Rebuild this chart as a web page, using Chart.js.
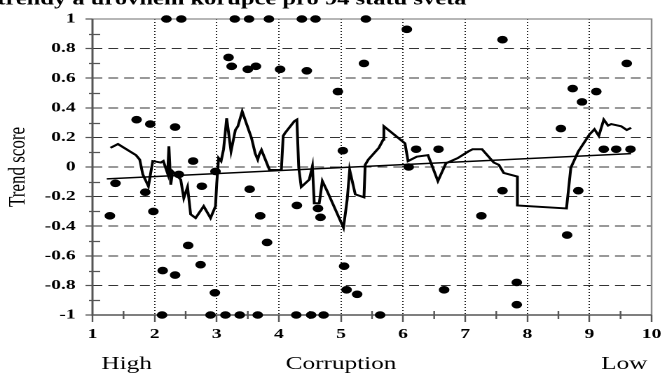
<!DOCTYPE html>
<html>
<head>
<meta charset="utf-8">
<script src="https://cdn.jsdelivr.net/npm/chart.js@4/dist/chart.umd.min.js"></script>
<style>
  html, body { margin: 0; padding: 0; background: #fff; overflow: hidden; }
  /* the source figure is stretched sideways, so the whole canvas is too */
  #wrap { position: absolute; left: 0; top: 0; width: 476px; height: 373px;
          transform: scaleX(1.40126); transform-origin: 0 0; }
</style>
</head>
<body>
<div id="wrap"><canvas id="chart"></canvas></div>
<script>
// countries: corruption level vs trend score
const countryX = [2.19, 2.43, 3.29, 3.52, 3.84, 4.37, 4.59, 5.40,
  3.19, 3.24, 3.50, 3.63, 4.02, 4.45, 5.37, 4.95, 6.06, 7.60, 9.60, 8.73, 9.11, 8.88, 8.54,
  1.71, 1.93, 2.33, 2.62, 5.03, 6.21, 6.57, 9.23, 9.43, 9.66, 6.09,
  1.37, 1.28, 1.85, 1.98, 2.39, 2.76, 2.54, 2.74, 2.13, 2.33, 2.97, 2.98, 3.53, 3.70, 3.81,
  4.29, 4.63, 4.67, 5.05, 5.09, 5.26, 6.66, 7.60, 7.26, 8.82, 8.64, 7.83, 7.83,
  2.12, 2.90, 3.14, 3.37, 3.66, 4.28, 4.52, 4.72, 5.63];
const countryY = [1, 1, 1, 1, 1, 1, 1, 1,
  0.74, 0.68, 0.66, 0.68, 0.66, 0.65, 0.70, 0.51, 0.93, 0.86, 0.70, 0.53, 0.51, 0.44, 0.26,
  0.32, 0.29, 0.27, 0.04, 0.11, 0.12, 0.12, 0.12, 0.12, 0.12, 0.0,
  -0.11, -0.33, -0.17, -0.30, -0.05, -0.13, -0.53, -0.66, -0.70, -0.73, -0.85, -0.03, -0.15, -0.33, -0.51,
  -0.26, -0.28, -0.34, -0.67, -0.83, -0.86, -0.83, -0.16, -0.33, -0.16, -0.46, -0.78, -0.93,
  -1, -1, -1, -1, -1, -1, -1, -1, -1];

// moving trend score
const trendX = [1.29, 1.41, 1.70, 1.76, 1.81, 1.90, 1.97, 2.10, 2.14, 2.21, 2.23, 2.26, 2.29, 2.42, 2.47, 2.53,
  2.58, 2.66, 2.79, 2.90, 2.98, 3.00, 3.03, 3.07, 3.11, 3.16, 3.23, 3.30, 3.34, 3.41, 3.56, 3.62, 3.66,
  3.68, 3.72, 3.85, 4.04, 4.07, 4.10, 4.25, 4.29, 4.32, 4.36, 4.49, 4.54, 4.57, 4.65, 4.70, 4.78, 5.04,
  5.10, 5.14, 5.23, 5.37, 5.39, 5.44, 5.61, 5.68, 5.69, 6.03, 6.08, 6.22, 6.40, 6.56, 6.69, 6.88, 7.05,
  7.12, 7.27, 7.46, 7.54, 7.62, 7.84, 7.84, 8.63, 8.70, 8.82, 9.00, 9.08, 9.15, 9.23, 9.30, 9.35, 9.51,
  9.60, 9.67];
const trendY = [0.13, 0.155, 0.08, 0.05, -0.05, -0.13, 0.04, 0.03, 0.04, -0.045, 0.14, -0.12, -0.03, -0.085, -0.21, -0.135,
  -0.32, -0.345, -0.265, -0.345, -0.265, -0.11, 0.06, 0.04, 0.12, 0.33, 0.105, 0.25, 0.275, 0.375, 0.195, 0.09, 0.05,
  0.08, 0.115, -0.02, -0.02, 0.21, 0.23, 0.31, 0.32, -0.005, -0.135, -0.085, 0.005, -0.245, -0.245, -0.095, -0.165, -0.41,
  -0.22, -0.02, -0.185, -0.205, 0.015, 0.05, 0.13, 0.185, 0.275, 0.16, 0.04, 0.07, 0.08, -0.095, 0.025, 0.06, 0.105,
  0.12, 0.12, 0.03, 0.015, -0.04, -0.065, -0.26, -0.28, -0.005, 0.105, 0.22, 0.255, 0.21, 0.32, 0.28, 0.29, 0.275,
  0.25, 0.265];

// linear fit
const fitX = [1.23, 9.67];
const fitY = [-0.08, 0.09];

const xTicks = [1, 2, 3, 4, 5, 6, 7, 8, 9, 10];
const yTicks = [-1, -0.8, -0.6, -0.4, -0.2, 0, 0.2, 0.4, 0.6, 0.8, 1];

const titleText = 'trendy a úrovnem korupce pro 94 států světa';
const bottomWords = [['High', 1.55], ['Corruption', 5.0], ['Low', 9.56]];

const toPoints = (xs, ys) => xs.map((v, i) => ({ x: v, y: ys[i] }));
const serif = '"Liberation Serif", "Times New Roman", serif';

// frame, minor ticks and extra text
const decor = {
  id: 'decor',
  beforeDatasetsDraw(chart) {
    const { ctx, chartArea: a, scales: { x, y } } = chart;
    ctx.save();
    ctx.strokeStyle = '#8a8a8a';
    ctx.lineWidth = 1.2;
    ctx.beginPath();
    ctx.moveTo(a.left, a.top);
    ctx.lineTo(a.right, a.top);
    ctx.lineTo(a.right, a.bottom);
    ctx.stroke();
    ctx.strokeStyle = '#555';
    ctx.lineWidth = 1.5;
    ctx.beginPath();
    ctx.moveTo(a.left, a.top);
    ctx.lineTo(a.left, a.bottom);
    ctx.lineTo(a.right, a.bottom);
    ctx.stroke();
    ctx.lineWidth = 1.2;
    ctx.beginPath();
    for (let v = -0.9; v < 1; v += 0.2) {
      const py = Math.round(y.getPixelForValue(v)) + 0.5;
      ctx.moveTo(a.left - 2.5, py);
      ctx.lineTo(a.left + 5.5, py);
    }
    for (let v = 1.5; v < 10; v += 1) {
      const px = x.getPixelForValue(v);
      ctx.moveTo(px, a.bottom - 4);
      ctx.lineTo(px, a.bottom + 4);
    }
    ctx.stroke();
    ctx.restore();
  },
  afterDraw(chart) {
    const { ctx, scales: { x } } = chart;
    ctx.save();
    ctx.fillStyle = '#000';
    ctx.font = 'bold 17.5px ' + serif;
    ctx.textAlign = 'left';
    ctx.textBaseline = 'alphabetic';
    ctx.fillText(titleText, -2, 4.5);
    ctx.font = '18px ' + serif;
    ctx.textAlign = 'center';
    bottomWords.forEach(([w, v]) => ctx.fillText(w, x.getPixelForValue(v), 369));
    ctx.restore();
  }
};

new Chart(document.getElementById('chart'), {
  data: {
    datasets: [
      {
        type: 'scatter',
        data: toPoints(countryX, countryY),
        backgroundColor: '#000',
        borderColor: '#000',
        pointRadius: 3.3,
        pointHoverRadius: 3.3,
        clip: false
      },
      {
        type: 'line',
        data: toPoints(trendX, trendY),
        borderColor: '#000',
        borderWidth: 2,
        pointRadius: 0,
        tension: 0,
        fill: false,
        clip: false
      },
      {
        type: 'line',
        data: toPoints(fitX, fitY),
        borderColor: '#000',
        borderWidth: 1.5,
        pointRadius: 0,
        tension: 0,
        fill: false
      }
    ]
  },
  options: {
    responsive: true,
    maintainAspectRatio: false,
    animation: false,
    devicePixelRatio: 2,
    layout: { padding: { left: 0, right: 6.8, top: 19, bottom: 0 } },
    plugins: { legend: { display: false }, tooltip: { enabled: false } },
    scales: {
      x: {
        type: 'linear',
        min: 1,
        max: 10,
        afterBuildTicks: (scale) => { scale.ticks = xTicks.map(v => ({ value: v })); },
        afterFit: (scale) => { scale.height = 58; },
        border: { display: false, dash: [1, 2] },
        grid: {
          color: (c) => (c.tick && (c.tick.value === 1 || c.tick.value === 10)) ? 'rgba(0,0,0,0)' : '#222',
          lineWidth: 1,
          borderDash: [1, 2],
          tickColor: '#555',
          tickLength: 7,
          tickWidth: 1.2,
          tickBorderDash: []
        },
        ticks: {
          color: '#000',
          padding: 4,
          maxRotation: 0,
          font: { family: serif, size: 14, weight: 'bold' },
          callback: (v) => String(v)
        }
      },
      y: {
        type: 'linear',
        min: -1,
        max: 1,
        afterBuildTicks: (scale) => { scale.ticks = yTicks.map(v => ({ value: v })); },
        afterFit: (scale) => { scale.width = 66; },
        border: { display: false, dash: [7, 4.3] },
        grid: {
          color: (c) => (c.tick && Math.abs(c.tick.value) > 0.99) ? 'rgba(0,0,0,0)' : '#333',
          lineWidth: 1,
          borderDash: [7, 4.3],
          tickColor: '#555',
          tickLength: 5,
          tickWidth: 1.2,
          tickBorderDash: []
        },
        ticks: {
          color: '#000',
          padding: 7,
          font: { family: serif, size: 14, weight: 'bold' },
          callback: (v) => String(Math.round(v * 10) / 10)
        },
        title: {
          display: true,
          text: 'Trend score',
          color: '#000',
          padding: { top: 3, bottom: 0 },
          font: { family: serif, size: 17 }
        }
      }
    }
  },
  plugins: [decor]
});
</script>
</body>
</html>
